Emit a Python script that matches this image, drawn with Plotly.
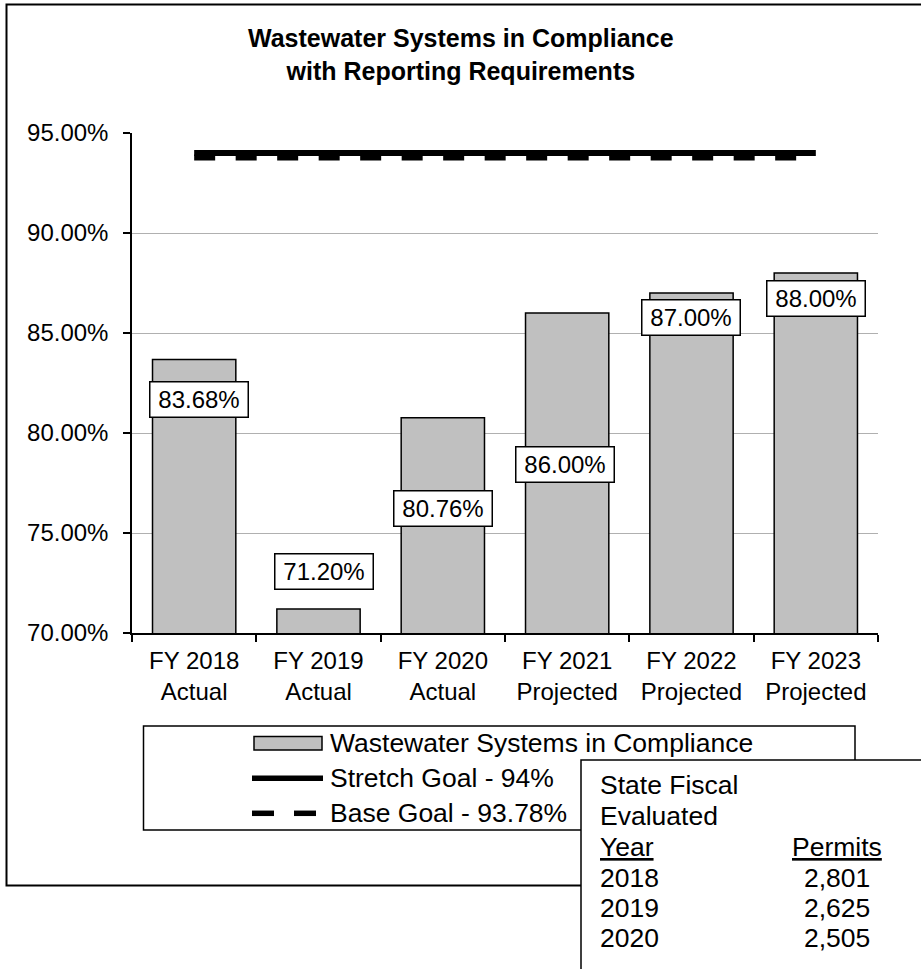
import plotly.graph_objects as go

# ---- data -------------------------------------------------------------
fiscal_years = ["FY 2018", "FY 2019", "FY 2020", "FY 2021", "FY 2022", "FY 2023"]
status = ["Actual", "Actual", "Actual", "Projected", "Projected", "Projected"]
compliance_pct = [83.68, 71.20, 80.76, 86.00, 87.00, 88.00]
stretch_goal = [94.0] * 6
base_goal = [93.78] * 6
y_ticks = [70, 75, 80, 85, 90, 95]

table_years = ["2018", "2019", "2020"]
table_permits = ["2,801", "2,625", "2,505"]

# ---- label placement (value-axis centre of each data label box) -------
label_center = [81.70, 73.10, 76.23, 78.42, 85.77, 86.72]
label_xshift = [5, 5, 0, -2, -1, 0]

categories = [f"{fy}<br>{st}" for fy, st in zip(fiscal_years, status)]

FONT = "Liberation Sans, Arial, sans-serif"
W_FIG, H_FIG = 921, 969
L, T, PW, PH = 132, 133, 746, 500


def px(x):
    return (x - L) / PW


def py(y):
    return 1 - (y - T) / PH


fig = go.Figure()

fig.add_trace(go.Bar(
    x=categories, y=compliance_pct, width=0.67,
    marker=dict(color="#C0C0C0", line=dict(color="black", width=1.5)),
    name="Wastewater Systems in Compliance", showlegend=False,
    hoverinfo="skip",
))
fig.add_trace(go.Scatter(
    x=categories, y=base_goal, mode="lines",
    line=dict(color="black", width=6, dash="21px,20.5px"),
    name="Base Goal - 93.78%", showlegend=False, hoverinfo="skip",
))
fig.add_trace(go.Scatter(
    x=categories, y=stretch_goal, mode="lines",
    line=dict(color="black", width=6),
    name="Stretch Goal - 94%", showlegend=False, hoverinfo="skip",
))

annotations = []
# data labels
for cat, v, yc, dx in zip(categories, compliance_pct, label_center, label_xshift):
    annotations.append(dict(
        x=cat, y=yc, xref="x", yref="y", text=f"{v:.2f}%", showarrow=False,
        xshift=dx, font=dict(family=FONT, size=24, color="black"),
        bgcolor="white", bordercolor="black", borderwidth=1.5, borderpad=0,
        width=97, height=34, align="center", valign="middle",
    ))

# title
annotations.append(dict(
    x=px(460.5), y=py(54), xref="paper", yref="paper", showarrow=False,
    text="<b>Wastewater Systems in Compliance<br>with Reporting Requirements</b>",
    font=dict(family=FONT, size=25, color="black"), align="center",
    xanchor="center", yanchor="middle",
))

shapes = []
# chart frame
shapes.append(dict(type="rect", xref="paper", yref="paper",
                   x0=px(6.5), x1=px(935), y0=py(4.5), y1=py(885.5),
                   line=dict(color="black", width=2), fillcolor="rgba(0,0,0,0)",
                   layer="above"))

# legend box and entries
shapes.append(dict(type="rect", xref="paper", yref="paper",
                   x0=px(143.5), x1=px(855), y0=py(726), y1=py(830),
                   line=dict(color="black", width=1.5), fillcolor="white",
                   layer="above"))
shapes.append(dict(type="rect", xref="paper", yref="paper",
                   x0=px(254), x1=px(322), y0=py(736.5), y1=py(750),
                   line=dict(color="black", width=1.5), fillcolor="#C0C0C0",
                   layer="above"))
shapes.append(dict(type="line", xref="paper", yref="paper",
                   x0=px(252), x1=px(323), y0=py(778.3), y1=py(778.3),
                   line=dict(color="black", width=5.5), layer="above"))
for a, b in [(252, 274), (294, 316)]:
    shapes.append(dict(type="line", xref="paper", yref="paper",
                       x0=px(a), x1=px(b), y0=py(813.3), y1=py(813.3),
                       line=dict(color="black", width=5.5), layer="above"))

legend_items = ["Wastewater Systems in Compliance", "Stretch Goal - 94%",
                "Base Goal - 93.78%"]
for txt, yy in zip(legend_items, [743, 778, 813]):
    annotations.append(dict(
        x=px(328), y=py(yy), xref="paper", yref="paper", showarrow=False,
        text=txt, font=dict(family=FONT, size=26.5, color="black"),
        xanchor="left", yanchor="middle",
    ))

# permits table
shapes.append(dict(type="rect", xref="paper", yref="paper",
                   x0=px(581), x1=px(945), y0=py(760), y1=py(995),
                   line=dict(color="black", width=1.5), fillcolor="white",
                   layer="above"))

left_col = ["State Fiscal", "Evaluated", "<u>Year</u>"] + table_years
for txt, yy in zip(left_col, [785, 816, 847, 878, 908, 938]):
    annotations.append(dict(
        x=px(598), y=py(yy), xref="paper", yref="paper", showarrow=False,
        text=txt, font=dict(family=FONT, size=26.5, color="black"),
        xanchor="left", yanchor="middle",
    ))
right_col = ["<u>Permits</u>"] + table_permits
for txt, yy in zip(right_col, [847, 878, 908, 938]):
    annotations.append(dict(
        x=px(837), y=py(yy), xref="paper", yref="paper", showarrow=False,
        text=txt, font=dict(family=FONT, size=26.5, color="black"),
        xanchor="center", yanchor="middle",
    ))

fig.update_layout(
    width=W_FIG, height=H_FIG,
    margin=dict(l=L, r=W_FIG - L - PW, t=T, b=H_FIG - T - PH, pad=0),
    paper_bgcolor="white", plot_bgcolor="white",
    showlegend=False, bargap=0.33,
    font=dict(family=FONT, size=24, color="black"),
    annotations=annotations, shapes=shapes,
)
fig.update_xaxes(
    type="category", showline=True, linecolor="black", linewidth=2,
    ticks="outside", tickson="boundaries", ticklen=7, tickcolor="black",
    tickwidth=1.5, showgrid=False, tickfont=dict(family=FONT, size=24),
    ticklabelstandoff=5,
)
fig.update_yaxes(
    range=[70, 95], tickmode="array", tickvals=y_ticks,
    ticktext=[f"{v:.2f}%" for v in y_ticks],
    showline=True, linecolor="black", linewidth=1.5,
    ticks="outside", ticklen=7, tickcolor="black", tickwidth=1.5,
    showgrid=True, gridcolor="#B0B0B0", gridwidth=1, zeroline=False,
    tickfont=dict(family=FONT, size=24), ticklabelstandoff=10,
)

fig.write_html("out.html")
